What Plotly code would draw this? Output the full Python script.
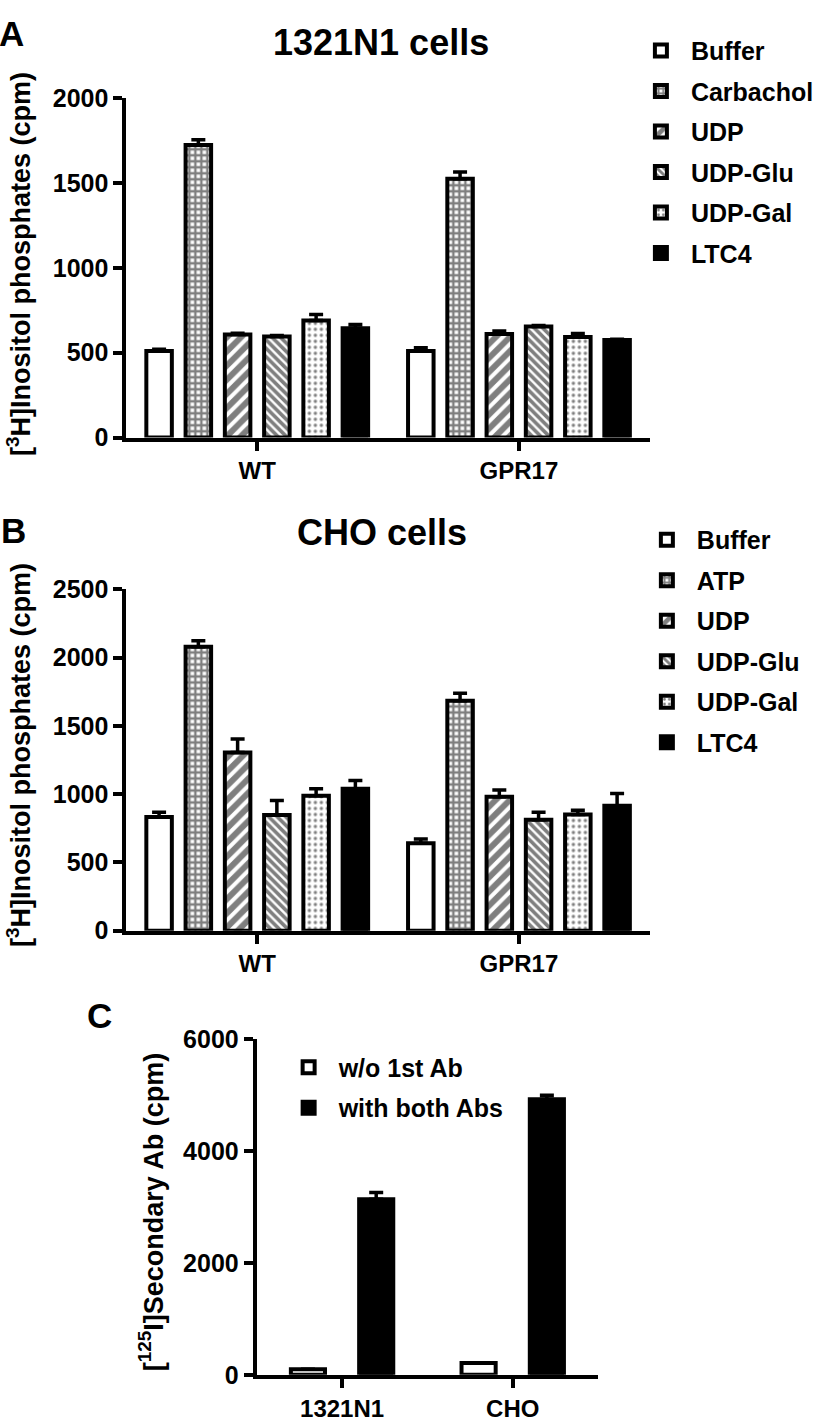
import plotly.graph_objects as go

# ---------------- data ----------------
groups_ab = ["WT", "GPR17"]

treat_a = ["Buffer", "Carbachol", "UDP", "UDP-Glu", "UDP-Gal", "LTC4"]
a_vals = {
    "Buffer":    [510, 510],
    "Carbachol": [1725, 1525],
    "UDP":       [607, 610],
    "UDP-Glu":   [595, 655],
    "UDP-Gal":   [690, 592],
    "LTC4":      [645, 575],
}
a_errs = {
    "Buffer":    [10, 20],
    "Carbachol": [30, 40],
    "UDP":       [8, 18],
    "UDP-Glu":   [6, 5],
    "UDP-Gal":   [35, 22],
    "LTC4":      [22, 5],
}

treat_b = ["Buffer", "ATP", "UDP", "UDP-Glu", "UDP-Gal", "LTC4"]
b_vals = {
    "Buffer":  [832, 640],
    "ATP":     [2080, 1685],
    "UDP":     [1305, 982],
    "UDP-Glu": [848, 812],
    "UDP-Gal": [988, 852],
    "LTC4":    [1040, 915],
}
b_errs = {
    "Buffer":  [35, 32],
    "ATP":     [45, 55],
    "UDP":     [100, 48],
    "UDP-Glu": [105, 55],
    "UDP-Gal": [52, 30],
    "LTC4":    [60, 90],
}

groups_c = ["1321N1", "CHO"]
series_c = ["w/o 1st Ab", "with both Abs"]
c_vals = {"w/o 1st Ab": [100, 210], "with both Abs": [3140, 4930]}
c_errs = {"w/o 1st Ab": [0, 0], "with both Abs": [120, 70]}

y_ticks_a = [0, 500, 1000, 1500, 2000]
y_ticks_b = [0, 500, 1000, 1500, 2000, 2500]
y_ticks_c = [0, 2000, 4000, 6000]

# ---------------- styles ----------------
W, H = 819, 1427
FONT = "Liberation Sans"
LW = 4

def style_for(name):
    base = dict(color="white", line=dict(color="black", width=LW))
    if name in ("Carbachol", "ATP"):
        base["pattern"] = dict(shape="+", size=6, solidity=0.65, fgcolor="black", bgcolor="white")
    elif name == "UDP":
        base["pattern"] = dict(shape="/", size=10, solidity=0.6, fgcolor="black", bgcolor="white")
    elif name == "UDP-Glu":
        base["pattern"] = dict(shape="\\", size=6, solidity=0.6, fgcolor="black", bgcolor="white")
    elif name == "UDP-Gal":
        base["pattern"] = dict(shape=".", size=6, solidity=0.25, fgcolor="black", bgcolor="white")
    elif name in ("LTC4", "with both Abs"):
        base["color"] = "black"
    return base

def err(arr):
    return dict(type="data", array=arr, arrayminus=[0] * len(arr), symmetric=False,
                color="black", thickness=3.5, width=7)

fig = go.Figure()

for name in treat_a:
    fig.add_trace(go.Bar(x=groups_ab, y=a_vals[name], name=name, marker=style_for(name),
                         error_y=err(a_errs[name]), xaxis="x", yaxis="y",
                         legend="legend", legendgroup="A_" + name))
for name in treat_b:
    fig.add_trace(go.Bar(x=groups_ab, y=b_vals[name], name=name, marker=style_for(name),
                         error_y=err(b_errs[name]), xaxis="x2", yaxis="y2",
                         legend="legend2", legendgroup="B_" + name))
offsets_c = [-0.3, 0.1]
for name, off in zip(series_c, offsets_c):
    fig.add_trace(go.Bar(x=groups_c, y=c_vals[name], name=name, marker=style_for(name),
                         error_y=err(c_errs[name]), xaxis="x3", yaxis="y3",
                         width=0.2, offset=off,
                         legend="legend3", legendgroup="C_" + name))

def px_x(p):
    return p / W

def px_y(p):
    return 1 - p / H

xcommon = dict(type="category", range=[-0.5, 1.5], showline=True, linecolor="black",
               linewidth=LW, ticks="outside", ticklen=9, tickwidth=LW, tickcolor="black",
               showgrid=False, zeroline=False, tickfont=dict(size=24, color="black"))
ycommon = dict(showline=True, linecolor="black", linewidth=LW, ticks="outside", ticklen=9,
               tickwidth=LW, tickcolor="black", showgrid=False, zeroline=False,
               tickfont=dict(size=25, color="black"))

leg_common = dict(font=dict(size=25, color="black"), bgcolor="rgba(0,0,0,0)",
                  tracegroupgap=5, itemwidth=50, xanchor="left", yanchor="top",
                  traceorder="grouped")

fig.update_layout(
    width=W, height=H, margin=dict(l=0, r=0, t=0, b=0),
    paper_bgcolor="white", plot_bgcolor="white",
    font=dict(family=FONT, weight="bold", color="black"),
    barmode="group", bargap=0.10, bargroupgap=0.35,
    xaxis=dict(domain=[px_x(127), px_x(653)], anchor="y", **xcommon),
    yaxis=dict(domain=[px_y(432), px_y(86)], anchor="x", range=[0, 2000],
               tickvals=y_ticks_a, **ycommon),
    xaxis2=dict(domain=[px_x(127), px_x(653)], anchor="y2", **xcommon),
    yaxis2=dict(domain=[px_y(935), px_y(587)], anchor="x2", range=[0, 2500],
                tickvals=y_ticks_b, **ycommon),
    xaxis3=dict(domain=[px_x(258), px_x(601)], anchor="y3", **xcommon),
    yaxis3=dict(domain=[px_y(1388), px_y(1046)], anchor="x3", range=[0, 6000],
                tickvals=y_ticks_c, **ycommon),
    legend=dict(x=px_x(634), y=px_y(14), **leg_common),
    legend2=dict(x=px_x(640), y=px_y(513), **leg_common),
    legend3=dict(x=px_x(280), y=px_y(1051), **leg_common),
    showlegend=True,
)

annots = [
    dict(text="A", x=px_x(12), y=px_y(20), size=35),
    dict(text="B", x=px_x(14), y=px_y(527), size=35),
    dict(text="C", x=px_x(100), y=px_y(1022), size=35),
    dict(text="1321N1 cells", x=px_x(383), y=px_y(29), size=36),
    dict(text="CHO cells", x=px_x(384), y=px_y(529), size=36),
]
for a in annots:
    fig.add_annotation(text=a["text"], x=a["x"], y=a["y"], xref="paper", yref="paper",
                       xanchor="center", yanchor="middle", showarrow=False,
                       font=dict(size=a["size"], color="black"))

ytitles = [
    ("[<sup>3</sup>H]Inositol phosphates (cpm)", 19, 255),
    ("[<sup>3</sup>H]Inositol phosphates (cpm)", 19, 756),
    ("[<sup>125</sup>I]Secondary Ab (cpm)", 152, 1222),
]
for t, xx, yy in ytitles:
    fig.add_annotation(text=t, x=px_x(xx), y=px_y(yy), xref="paper", yref="paper",
                       xanchor="center", yanchor="middle", showarrow=False, textangle=-90,
                       font=dict(size=27, color="black"))

post = (
    "document.documentElement.style.margin='0';"
    "document.documentElement.style.padding='0';"
    "document.documentElement.style.overflow='hidden';"
    "document.body.style.margin='0';"
    "document.body.style.padding='0';"
    "document.body.style.overflow='hidden';"
    "var d=document.getElementById('{plot_id}');"
    "d.style.position='absolute';d.style.top='0px';d.style.left='0px';"
)

fig.write_html("out.html", config={"displayModeBar": False}, post_script=post)
